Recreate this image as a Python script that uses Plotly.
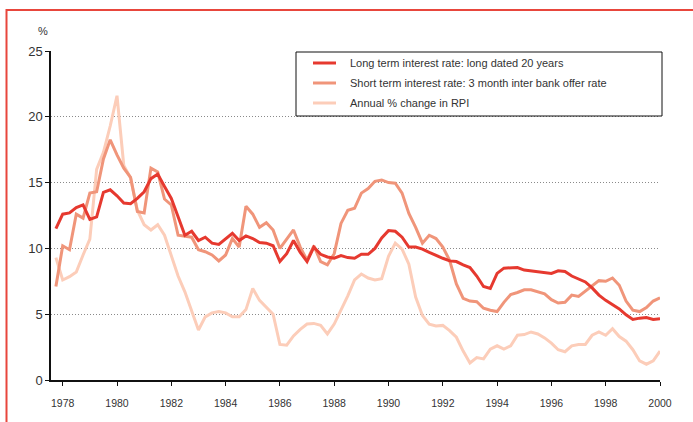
import pandas as pd
import plotly.graph_objects as go

# ---- data (quarterly, 1977 Q4 .. 2000 Q1) ----
quarters = pd.period_range("1977Q4", "2000Q1", freq="Q")
x_years = [p.year + (p.quarter - 1) / 4 for p in quarters]

long_rate = [
    11.5,
    12.6, 12.7, 13.1, 13.3,      # 1978
    12.2, 12.4, 14.25, 14.45,    # 1979
    14.0, 13.45, 13.4, 13.8,     # 1980
    14.3, 15.3, 15.65, 14.7,     # 1981
    13.8, 12.4, 11.0, 11.3,      # 1982
    10.6, 10.85, 10.4, 10.3,     # 1983
    10.75, 11.15, 10.6, 10.95,   # 1984
    10.75, 10.45, 10.4, 10.2,    # 1985
    9.0, 9.6, 10.6, 9.7,         # 1986
    9.0, 10.1, 9.55, 9.35,       # 1987
    9.25, 9.45, 9.3, 9.25,       # 1988
    9.55, 9.55, 10.0, 10.8,      # 1989
    11.35, 11.3, 10.85, 10.1,    # 1990
    10.1, 9.95, 9.7, 9.45,       # 1991
    9.25, 9.05, 9.0, 8.75,       # 1992
    8.55, 7.9, 7.1, 6.95,        # 1993
    8.1, 8.5, 8.55, 8.55,        # 1994
    8.35, 8.3, 8.2, 8.15,        # 1995
    8.1, 8.3, 8.25, 7.9,         # 1996
    7.7, 7.45, 7.0, 6.45,        # 1997
    6.05, 5.75, 5.4, 4.95,       # 1998
    4.6, 4.7, 4.75, 4.6,         # 1999
    4.65,
]

short_rate = [
    7.1,
    10.2, 9.9, 12.6, 12.3,       # 1978
    14.2, 14.3, 16.8, 18.25,     # 1979
    17.1, 16.1, 15.4, 12.8,      # 1980
    12.7, 16.1, 15.8, 13.75,     # 1981
    13.3, 11.0, 10.9, 10.85,     # 1982
    9.9, 9.75, 9.5, 9.05,        # 1983
    9.5, 10.75, 10.1, 13.2,      # 1984
    12.6, 11.6, 11.95, 11.4,     # 1985
    10.0, 10.7, 11.4, 10.1,      # 1986
    9.1, 10.2, 9.0, 8.75,        # 1987
    9.6, 11.9, 12.9, 13.05,      # 1988
    14.2, 14.55, 15.1, 15.2,     # 1989
    15.0, 14.95, 14.2, 12.65,    # 1990
    11.6, 10.4, 11.0, 10.75,     # 1991
    10.1, 9.1, 7.3, 6.2,         # 1992
    6.0, 5.95, 5.45, 5.3,        # 1993
    5.2, 5.9, 6.5, 6.65,         # 1994
    6.85, 6.85, 6.7, 6.55,       # 1995
    6.1, 5.85, 5.9, 6.45,        # 1996
    6.35, 6.75, 7.2, 7.55,       # 1997
    7.5, 7.75, 7.2, 6.0,         # 1998
    5.3, 5.2, 5.5, 6.0,          # 1999
    6.25,
]

rpi_change = [
    9.3,
    7.6, 7.85, 8.2, 9.5,         # 1978
    10.7, 16.0, 17.3, 19.3,      # 1979
    21.6, 16.3, 15.35, 12.9,     # 1980
    11.8, 11.4, 11.8, 11.0,      # 1981
    9.4, 7.9, 6.7, 5.2,          # 1982
    3.8, 4.8, 5.1, 5.2,          # 1983
    5.1, 4.8, 4.8, 5.35,         # 1984
    6.95, 6.05, 5.5, 5.0,        # 1985
    2.7, 2.65, 3.35, 3.85,       # 1986
    4.25, 4.3, 4.15, 3.5,        # 1987
    4.25, 5.3, 6.4, 7.6,         # 1988
    8.05, 7.75, 7.6, 7.7,        # 1989
    9.4, 10.4, 9.95, 8.8,        # 1990
    6.3, 4.9, 4.25, 4.1,         # 1991
    4.15, 3.75, 3.25, 2.2,       # 1992
    1.3, 1.7, 1.6, 2.35,         # 1993
    2.6, 2.35, 2.6, 3.4,         # 1994
    3.45, 3.65, 3.5, 3.2,        # 1995
    2.8, 2.3, 2.15, 2.6,         # 1996
    2.7, 2.7, 3.4, 3.65,         # 1997
    3.4, 3.9, 3.3, 2.95,         # 1998
    2.3, 1.45, 1.2, 1.45,        # 1999
    2.2,
]

series_names = [
    "Long term interest rate: long dated 20 years",
    "Short term interest rate: 3 month inter bank offer rate",
    "Annual % change in RPI",
]
x_tick_vals = [1978, 1980, 1982, 1984, 1986, 1988, 1990, 1992, 1994, 1996, 1998, 2000]
y_tick_vals = [0, 5, 10, 15, 20, 25]

# ---- styling ----
W, H = 693, 422
ML, MR, MT, MB = 51, 33, 51, 42
PW, PH = W - ML - MR, H - MT - MB
FONT = "Liberation Sans, Arial, sans-serif"
C_LONG = "#E6392F"
C_SHORT = "#F0957A"
C_RPI = "#FCCDB9"
FRAME = "#E8463C"


def px_x(p):
    return (p - ML) / PW


def px_y(p):
    return (H - MB - p) / PH


fig = go.Figure()
for vals, name, col in [(rpi_change, series_names[2], C_RPI),
                        (short_rate, series_names[1], C_SHORT),
                        (long_rate, series_names[0], C_LONG)]:
    fig.add_trace(go.Scatter(x=x_years, y=vals, name=name, mode="lines",
                             line=dict(color=col, width=3), showlegend=False))

shapes = [
    # red frame (top & left)
    dict(type="line", xref="paper", yref="paper", x0=px_x(6), x1=px_x(W + 5),
         y0=px_y(10), y1=px_y(10), line=dict(color=FRAME, width=2), layer="above"),
    dict(type="line", xref="paper", yref="paper", x0=px_x(6.5), x1=px_x(6.5),
         y0=px_y(9), y1=px_y(H + 5), line=dict(color=FRAME, width=2), layer="above"),
    # legend box
    dict(type="rect", xref="paper", yref="paper", x0=px_x(296), x1=px_x(662),
         y0=px_y(116), y1=px_y(52), line=dict(color="#111", width=1),
         fillcolor="white", layer="above"),
]
annotations = [
    dict(text="%", xref="paper", yref="paper", x=px_x(43), y=px_y(31),
         showarrow=False, font=dict(family=FONT, size=11, color="#333"),
         xanchor="center", yanchor="middle"),
]
for i, (name, col) in enumerate(zip(series_names, [C_LONG, C_SHORT, C_RPI])):
    yc = 63 + 20 * i
    shapes.append(dict(type="line", xref="paper", yref="paper",
                       x0=px_x(313), x1=px_x(336), y0=px_y(yc), y1=px_y(yc),
                       line=dict(color=col, width=3), layer="above"))
    annotations.append(dict(text=name, xref="paper", yref="paper",
                            x=px_x(348), y=px_y(yc), showarrow=False,
                            xanchor="left", yanchor="middle",
                            font=dict(family=FONT, size=11, color="#333")))

fig.update_layout(
    width=W, height=H,
    margin=dict(l=ML, r=MR, t=MT, b=MB),
    paper_bgcolor="white", plot_bgcolor="white",
    font=dict(family=FONT, color="#333"),
    shapes=shapes, annotations=annotations,
    showlegend=False,
    xaxis=dict(range=[1977.569, 2000.0], tickvals=x_tick_vals,
               ticktext=[str(v) for v in x_tick_vals],
               ticks="outside", ticklen=4, tickcolor="#111", tickwidth=1,
               ticklabelstandoff=9,
               showline=True, linecolor="#111", linewidth=1.5,
               showgrid=False, zeroline=False,
               tickfont=dict(family=FONT, size=10.5, color="#333")),
    yaxis=dict(range=[0, 25], tickvals=y_tick_vals,
               ticks="outside", ticklen=4, tickcolor="#111", tickwidth=1,
               showline=True, linecolor="#111", linewidth=1.5,
               showgrid=True, gridcolor="#8a8a8a", gridwidth=1, griddash="1px,2px",
               zeroline=False,
               tickfont=dict(family=FONT, size=13, color="#333")),
)

fig.write_html(
    "out.html",
    config={"displayModeBar": False},
    post_script="document.body.style.margin='0';document.body.style.overflow='hidden';",
)
